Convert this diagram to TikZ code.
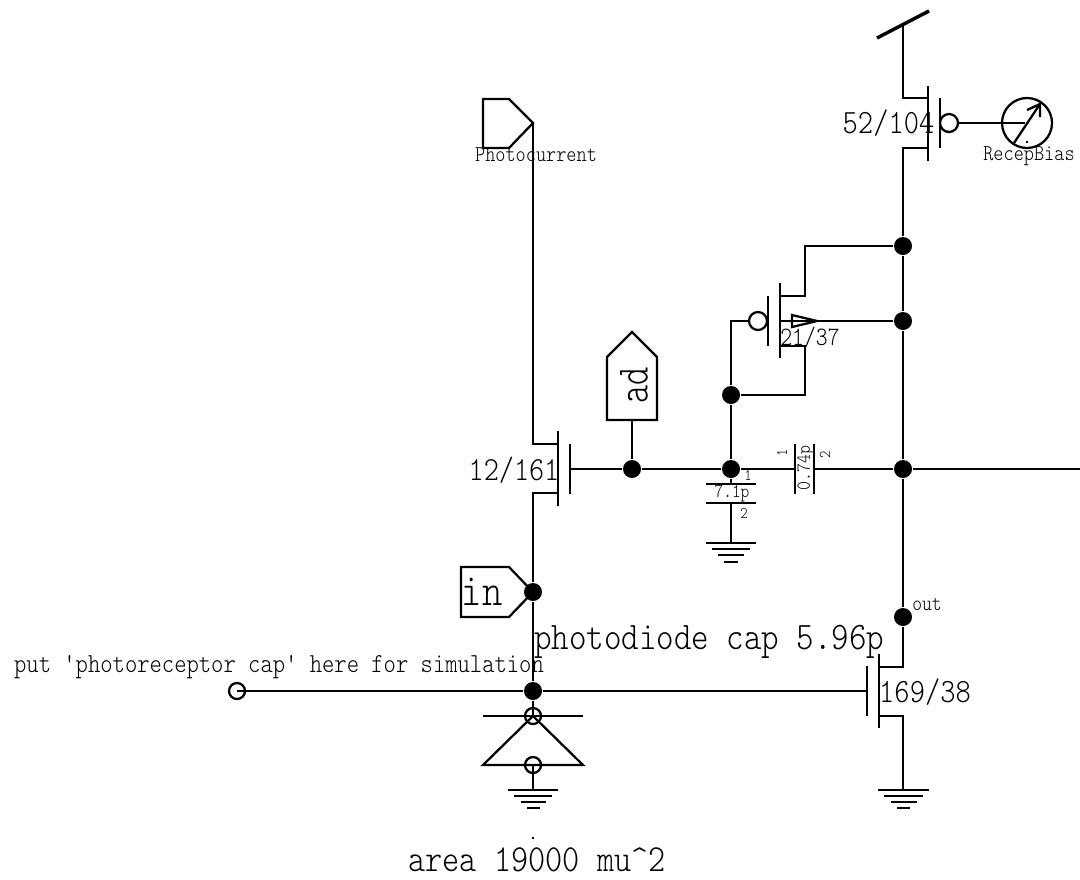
\documentclass[tikz,border=0pt]{standalone}
\usepackage{fontspec}
\usepackage{graphicx}
\setmonofont{Latin Modern Mono Light}
\begin{document}
\newcommand{\txt}[2]{\scalebox{1}[1.17]{\fontsize{#1}{#1}\selectfont\ttfamily #2}}
\begin{tikzpicture}[x=0.75pt,y=-0.75pt,line width=1.7pt,line cap=butt,
  dotnode/.style={circle,fill=black,draw=none,minimum size=18*0.75pt,inner sep=0pt},
  wire/.style={draw=black,line width=1.7pt,line join=miter},
  speck/.style={fill=black,draw=none,minimum size=0.8pt,inner sep=0pt},
  bubble/.style={circle,draw=black,line width=1.7pt,fill=none,inner sep=0pt},
  lab/.style={inner sep=0pt,outer sep=0pt,text=black,align=center}]
\useasboundingbox (0,0) rectangle (1080,879);
% junctions
\node[dotnode] (j1) at (903,246) {};
\node[dotnode] (j2) at (903,321) {};
\node[dotnode] (j3) at (903,469) {};
\node[dotnode] (j4) at (903,617) {};
\node[dotnode] (j5) at (731,395) {};
\node[dotnode] (j6) at (731,469) {};
\node[dotnode] (j7) at (632,469) {};
\node[dotnode] (j8) at (533,592) {};
\node[dotnode] (j9) at (533,691) {};
\coordinate (vdd) at (903,25);
\coordinate (east) at (1080,469);
% supply bar
\draw[line width=2.6pt] (877,38) -- (929,11);
% top PFET
\draw[wire] (vdd) -- (903,98) -- (928,98);
\draw[wire] (928,86) -- (928,161);
\draw[wire] (940,98) -- (940,148);
\draw[wire] (928,148) -- (903,148) -- (j1);
\node[bubble,minimum size=18*0.75pt] (b1) at (949,123) {};
\node[bubble,minimum size=50*0.75pt] (bias) at (1027,123) {};
\draw[wire] (b1) -- (1025,123);
\draw[wire] (1014,143) -- (1040,104);
\draw[wire] (1027,110) -- (1040,104) -- (1040,117);
% right rail
\draw[wire] (j1) -- (j2) -- (j3) -- (j4);
\draw[wire] (j4) -- (903,667) -- (879,667);
% feedback PFET
\draw[wire] (780,283) -- (780,358);
\draw[wire] (768,296) -- (768,346);
\node[bubble,minimum size=18*0.75pt] (b2) at (758,321) {};
\draw[wire] (b2) -- (731,321) -- (j5);
\draw[wire] (j5) -- (j6);
\draw[wire] (780,296) -- (805,296) -- (805,246) -- (j1);
\draw[wire] (780,321) -- (j2);
\draw[wire] (792,315) -- (817,321) -- (792,327) -- cycle;
\draw[wire] (780,346) -- (805,346) -- (805,395) -- (j5);
% adaptive node wire
\draw[wire] (570,469) -- (j7) -- (j6) -- (795,469);
\draw[wire] (814,469) -- (j3) -- (east);
% ad tag
\draw[wire] (607,357) -- (632,332) -- (657,357) -- (657,420) -- (607,420) -- cycle;
\node[lab,rotate=90] (ad) at (634,385) {\scalebox{1}[1.3]{\fontsize{26}{26}\selectfont\ttfamily ad}};
\draw[wire] (632,420) -- (j7);
% cascode
\draw[wire] (570,444) -- (570,494);
\draw[wire] (558,431) -- (558,506);
\draw[wire] (558,444) -- (533,444) -- (533,123);
\draw[wire] (558,493) -- (533,493) -- (j8);
\draw[wire] (j8) -- (j9);
% photocurrent tag
\draw[wire] (483,99) -- (509,99) -- (533,123) -- (509,148) -- (483,148) -- cycle;
% in tag
\draw[wire] (461,567) -- (509,567) -- (533,592) -- (509,617) -- (461,617) -- cycle;
\node[lab] (intext) at (482,592) {\txt{29}{in}};
% caps
\draw[wire] (706,484) -- (756,484);
\draw[wire] (706,503) -- (756,503);
\draw[wire] (j6) -- (731,484);
\draw[wire] (731,503) -- (731,543);
\draw[wire] (795,444) -- (795,494);
\draw[wire] (814,444) -- (814,494);
% grounds
\draw[wire] (706,543) -- (756,543) (712,549) -- (750,549) (718,555) -- (744,555) (724,562) -- (738,562);
\draw[wire] (878,790) -- (929,790) (884,796) -- (923,796) (891,802) -- (917,802) (897,808) -- (910,808);
\draw[wire] (508,790) -- (558,790) (514,796) -- (552,796) (521,802) -- (546,802) (527,808) -- (540,808);
% input device
\draw[wire] (879,654) -- (879,728);
\draw[wire] (867,666) -- (867,716);
\draw[wire] (879,716) -- (903,716) -- (903,790);
\node[bubble,minimum size=16*0.75pt] (term) at (237,691) {};
\draw[wire] (term.center) -- (j9) -- (867,691);
% photodiode
\draw[wire] (j9) -- (533,716);
\draw[wire] (483,716) -- (583,716);
\draw[wire] (533,716) -- (483,765) -- (583,765) -- cycle;
\node[bubble,minimum size=16*0.75pt] (d1) at (533,716) {};
\node[bubble,minimum size=16*0.75pt] (d2) at (533,765) {};
\draw[wire] (d2.center) -- (533,790);
% labels
\node[lab] (l1) at (888.5,123) {\txt{21.8}{52/104}};
\node[lab] (l2) at (514,470) {\txt{21.6}{12/161}};
\node[lab] (l3) at (925,692) {\txt{21.8}{169/38}};
\node[lab] (l4) at (810,337) {\txt{17}{21/37}};
\node[lab] (l5) at (536,155) {\txt{14.5}{Photocurrent}};
\node[lab] (l6) at (1029,156) {\txt{14.5}{RecepBias}};
\node[lab] (l7) at (279,667) {\txt{17.6}{put 'photoreceptor cap' here for simulation}};
\node[lab] (l8) at (709,642) {\txt{25}{photodiode cap 5.96p}};
\node[lab] (l9) at (537,860) {\txt{24.5}{area 19000 mu\^{}2}};
\node[lab] (l10) at (927,605) {\txt{14}{out}};
\node[lab] (l11) at (732,494) {\txt{12.4}{7.1p}};
\node[lab,rotate=90] (l12) at (806,468) {\txt{12.8}{0.74p}};
\node[lab] (l13) at (748,475) {\txt{10.5}{1}};
\node[lab] (l14) at (744,513) {\txt{10.5}{2}};
\node[lab,rotate=90] (l15) at (782,453) {\txt{10.5}{1}};
\node[lab,rotate=90] (l16) at (825,455) {\txt{10.5}{2}};
\node[speck] (s1) at (533,838) {};
\node[speck] (s2) at (1027,142) {};
\end{tikzpicture}
\end{document}
